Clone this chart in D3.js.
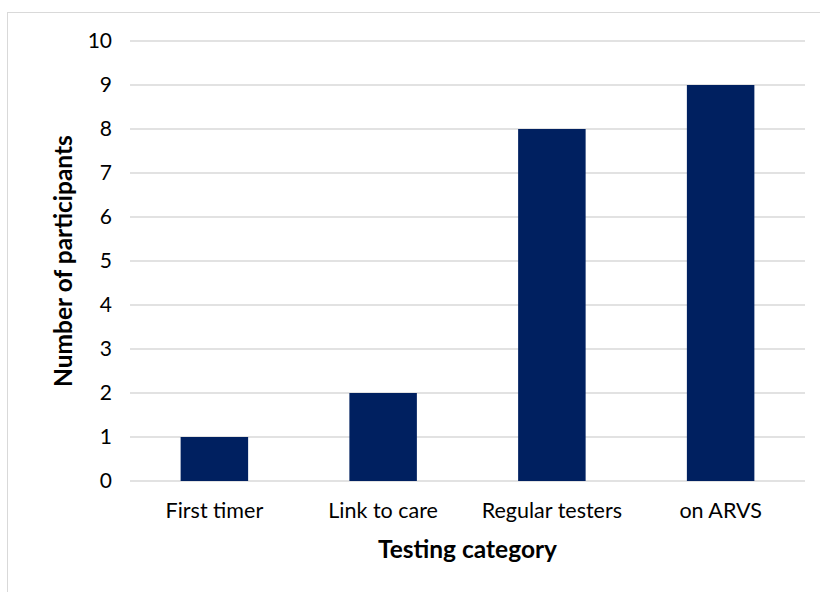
<!DOCTYPE html>
<html>
<head>
<meta charset="utf-8">
<script src="https://cdn.jsdelivr.net/npm/d3@7"></script>
<style>
  body { margin: 0; background: #fff; }
  svg text { font-family: Lato, "Open Sans", sans-serif; fill: #000; }
</style>
</head>
<body>
<svg id="chart"></svg>
<script>
var width = 820, height = 592
var margin = {top: 41, right: 15, bottom: 111, left: 130}

// data
var categories = ["First timer", "Link to care", "Regular testers", "on ARVS"]
var participants = [1, 2, 8, 9]
var yTicks = [0, 1, 2, 3, 4, 5, 6, 7, 8, 9, 10]

var svg = d3.select("#chart")
    .attr("width", width)
    .attr("height", height)

// chart border
svg.append("rect")
    .attr("x", 7.5).attr("y", 12.5)
    .attr("width", 830).attr("height", 600)
    .attr("fill", "none")
    .attr("stroke", "#d9d9d9")
    .attr("stroke-width", 1)

var x = d3.scaleBand()
    .domain(categories)
    .range([margin.left, width - margin.right])
    .paddingInner(0.6)
    .paddingOuter(0.3)

var y = d3.scaleLinear()
    .domain([0, 10])
    .range([height - margin.bottom, margin.top])

// gridlines
svg.append("g")
    .selectAll("line")
    .data(yTicks)
    .enter()
    .append("line")
    .attr("x1", margin.left)
    .attr("x2", width - margin.right)
    .attr("y1", d => y(d))
    .attr("y2", d => y(d))
    .attr("stroke", "#d9d9d9")
    .attr("stroke-width", 1.5)

// bars
svg.append("g")
    .selectAll("rect")
    .data(participants)
    .enter()
    .append("rect")
    .attr("x", (d, i) => x(categories[i]))
    .attr("width", x.bandwidth())
    .attr("y", d => y(d))
    .attr("height", d => y(0) - y(d))
    .attr("fill", "#002060")

// y axis labels
var yAxis = svg.append("g")
    .attr("transform", "translate(" + (margin.left - 6) + ",0)")
    .call(d3.axisLeft(y).tickValues(yTicks).tickSize(0).tickPadding(12))
yAxis.select(".domain").remove()
yAxis.selectAll("text").style("font-size", "21px").attr("fill", "#000")

// x axis labels
var xAxis = svg.append("g")
    .attr("transform", "translate(0," + y(0) + ")")
    .call(d3.axisBottom(x).tickSize(0).tickPadding(22))
xAxis.select(".domain").remove()
xAxis.selectAll("text").style("font-size", "21.5px").attr("fill", "#000")

// axis titles
svg.append("text")
    .attr("x", (margin.left + width - margin.right) / 2)
    .attr("y", 558)
    .attr("text-anchor", "middle")
    .style("font-size", "24.5px")
    .style("font-weight", "bold")
    .text("Testing category")

svg.append("text")
    .attr("transform", "translate(72," + ((margin.top + height - margin.bottom) / 2) + ") rotate(-90)")
    .attr("text-anchor", "middle")
    .style("font-size", "24.5px")
    .style("font-weight", "bold")
    .text("Number of participants")
</script>
</body>
</html>
